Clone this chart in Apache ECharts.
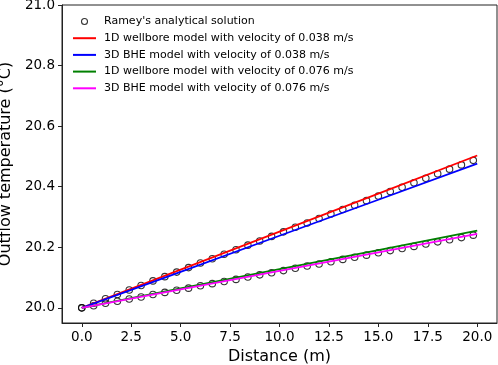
<!DOCTYPE html>
<html lang="en">

<head>
    <meta charset="UTF-8">
    <title>Outflow temperature</title>
    <script src="https://cdn.jsdelivr.net/npm/echarts@6/dist/echarts.min.js"></script>
</head>

<style>
    html, body {
        margin: 0;
        padding: 0;
        background: #fff;
    }

    #chart {
        width: 498px;
        height: 365px;
    }
</style>

<body>
    <div id="chart"></div>
</body>

<script>
    // distance of the analytical points (m)
    let rameyX = [0, 0.6, 1.2, 1.8, 2.4, 3.0, 3.6, 4.2, 4.8, 5.4, 6.0, 6.6, 7.2, 7.8, 8.4, 9.0, 9.6,
        10.2, 10.8, 11.4, 12.0, 12.6, 13.2, 13.8, 14.4, 15.0, 15.6, 16.2, 16.8, 17.4, 18.0, 18.6, 19.2, 19.8];
    // Ramey, v = 0.038 m/s
    let rameySlow = [20.000, 20.015, 20.030, 20.044, 20.059, 20.074, 20.089, 20.103, 20.118, 20.133, 20.148,
        20.162, 20.177, 20.192, 20.207, 20.221, 20.236, 20.251, 20.266, 20.280, 20.295, 20.310, 20.325,
        20.339, 20.354, 20.369, 20.384, 20.398, 20.413, 20.428, 20.443, 20.458, 20.472, 20.487];
    // Ramey, v = 0.076 m/s
    let rameyFast = [20.000, 20.007, 20.015, 20.022, 20.029, 20.036, 20.044, 20.051, 20.058, 20.065, 20.073,
        20.080, 20.087, 20.094, 20.102, 20.109, 20.116, 20.123, 20.131, 20.138, 20.145, 20.152, 20.160,
        20.167, 20.174, 20.182, 20.189, 20.196, 20.203, 20.211, 20.218, 20.225, 20.232, 20.240];

    // model curves
    let modelX = [0, 5, 10, 15, 20];
    let wellbore038 = [20.000, 20.126, 20.252, 20.377, 20.503];
    let bhe038 = [20.000, 20.119, 20.238, 20.357, 20.476];
    let wellbore076 = [20.000, 20.064, 20.128, 20.191, 20.255];
    let bhe076 = [20.000, 20.061, 20.122, 20.183, 20.244];

    let xTicks = [0, 2.5, 5, 7.5, 10, 12.5, 15, 17.5, 20];
    let yTicks = [20.0, 20.2, 20.4, 20.6, 20.8, 21.0];

    let rameyName = "Ramey's analytical solution";
    let names = [
        "1D wellbore model with velocity of 0.038 m/s",
        "3D BHE model with velocity of 0.038 m/s",
        "1D wellbore model with velocity of 0.076 m/s",
        "3D BHE model with velocity of 0.076 m/s"
    ];
    let colors = ['#ff0000', '#0000ff', '#008000', '#ff00ff'];

    function pairs(xs, ys) {
        return xs.map(function (x, i) { return [x, ys[i]]; });
    }

    let font = "DejaVu Sans";
    let myChart = echarts.init(document.getElementById("chart"));

    let series = [rameySlow, rameyFast].map(function (ys) {
        return {
            name: rameyName,
            type: "scatter",
            symbol: "circle",
            symbolSize: 6.5,
            itemStyle: {
                color: "rgba(255,255,255,0)",
                borderColor: "#000",
                borderWidth: 1.1
            },
            data: pairs(rameyX, ys),
            z: 2
        };
    });

    [wellbore038, bhe038, wellbore076, bhe076].forEach(function (ys, i) {
        series.push({
            name: names[i],
            type: "line",
            symbol: "none",
            lineStyle: { color: colors[i], width: 1.8 },
            itemStyle: { color: colors[i] },
            data: pairs(modelX, ys),
            z: 3
        });
    });

    let option = {
        animation: false,
        textStyle: { fontFamily: font },
        grid: {
            left: 62,
            right: 1,
            top: 5,
            bottom: 42,
            outerBoundsMode: "none",
            show: true,
            borderColor: "#222",
            borderWidth: 1
        },
        legend: {
            orient: "vertical",
            left: 67,
            top: 11,
            itemWidth: 23,
            itemHeight: 6,
            itemGap: 5.7,
            textStyle: { fontFamily: font, fontSize: 11, color: "#000", padding: [0, 0, 0, 3] },
            data: [
                {
                    name: rameyName,
                    icon: "circle",
                    itemStyle: { color: "rgba(255,255,255,0)", borderColor: "#000", borderWidth: 1.1 }
                }
            ].concat(names.map(function (n) { return { name: n, itemStyle: { opacity: 0 } }; }))
        },
        xAxis: {
            type: "value",
            min: -1,
            max: 21,
            name: "Distance (m)",
            nameLocation: "middle",
            nameGap: 26,
            nameTextStyle: { fontFamily: font, fontSize: 16, color: "#000" },
            axisLine: { show: true, onZero: false, lineStyle: { color: "#222", width: 1 } },
            axisTick: { show: true, length: 4, customValues: xTicks, lineStyle: { color: "#222" } },
            axisLabel: {
                customValues: xTicks,
                fontFamily: font,
                fontSize: 13.5,
                color: "#000",
                margin: 7,
                formatter: function (v) { return v.toFixed(1); }
            },
            splitLine: { show: false }
        },
        yAxis: {
            type: "value",
            min: 19.95,
            max: 21.0,
            name: "Outflow temperature (°C)",
            nameLocation: "middle",
            nameGap: 42,
            nameTextStyle: { fontFamily: font, fontSize: 16, color: "#000" },
            axisLine: { show: true, onZero: false, lineStyle: { color: "#222", width: 1 } },
            axisTick: { show: true, length: 4, customValues: yTicks, lineStyle: { color: "#222" } },
            axisLabel: {
                customValues: yTicks,
                fontFamily: font,
                fontSize: 13.5,
                color: "#000",
                margin: 7,
                formatter: function (v) { return v.toFixed(1); }
            },
            splitLine: { show: false }
        },
        series: series
    };

    myChart.setOption(option);
</script>

</html>
